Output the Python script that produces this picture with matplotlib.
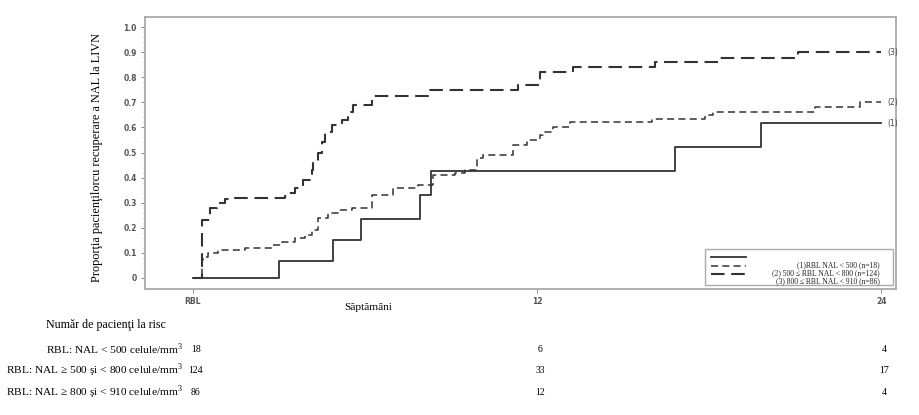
import numpy as np
import matplotlib.pyplot as plt
from matplotlib.transforms import blended_transform_factory
from matplotlib.patches import Rectangle

# step curves (weeks, cumulative proportion)
t1 = [0, 3.0, 4.9, 5.86, 7.9, 8.3, 16.8, 19.8, 24]
p1 = [0, 0.067, 0.15, 0.235, 0.33, 0.426, 0.52, 0.617, 0.617]

t2 = [0, 0.3, 0.35, 0.52, 0.87, 1.81, 2.76, 3.1, 3.56, 3.9, 4.15, 4.36, 4.7, 5.06, 5.55,
      6.24, 6.98, 7.85, 8.37, 9.14, 9.49, 9.9, 10.1, 11.16, 11.65, 12.1, 12.2, 12.56, 13.15,
      16.0, 17.86, 18.14, 21.7, 23.27, 24]
p2 = [0, 0.07, 0.083, 0.10, 0.11, 0.12, 0.13, 0.143, 0.16, 0.17, 0.19, 0.24, 0.26, 0.27, 0.28,
      0.33, 0.36, 0.37, 0.41, 0.42, 0.43, 0.48, 0.49, 0.53, 0.55, 0.57, 0.58, 0.60, 0.62,
      0.633, 0.65, 0.66, 0.68, 0.70, 0.70]

t3 = [0, 0.31, 0.59, 0.84, 1.12, 1.46, 3.21, 3.31, 3.56, 3.84, 4.15, 4.19, 4.36, 4.5, 4.6,
      4.85, 5.2, 5.4, 5.58, 6.24, 8.2, 11.34, 12.1, 13.25, 16.1, 18.38, 21.1, 24]
p3 = [0, 0.23, 0.28, 0.30, 0.315, 0.32, 0.327, 0.34, 0.36, 0.39, 0.43, 0.46, 0.50, 0.54, 0.58,
      0.61, 0.63, 0.66, 0.69, 0.725, 0.75, 0.77, 0.82, 0.84, 0.86, 0.876, 0.90, 0.90]

curve_tags = ['(1)', '(2)', '(3)']
legend_labels = ['(1)RBL NAL < 500 (n=18)',
                 '(2) 500 \u2264 RBL NAL < 800 (n=124)',
                 '(3) 800 \u2264 RBL NAL < 910 (n=86)']

risk_weeks = [0, 12, 24]
risk_labels = ['RBL: NAL < 500 celule/mm$^3$',
               'RBL: NAL \u2265 500 \u015fi < 800 celule/mm$^3$',
               'RBL: NAL \u2265 800 \u015fi < 910 celule/mm$^3$']
risk_1 = [18, 6, 4]
risk_2 = [124, 33, 17]
risk_3 = [86, 12, 4]

serif = ['Liberation Serif', 'DejaVu Serif']
plt.rcParams['mathtext.fontset'] = 'custom'
plt.rcParams['mathtext.rm'] = 'Liberation Serif'

fig = plt.figure(figsize=(9.2, 4.15), dpi=100)
ax = fig.add_axes([0.1576, 0.3036, 0.8164, 0.6554])

col = '#333333'
styles = [dict(ls='-', lw=1.3),
          dict(ls=(0, (4.6, 2.8)), lw=1.1),
          dict(ls=(0, (6.5, 3.2)), lw=1.5)]
for t, p, st, tag in zip([t1, t2, t3], [p1, p2, p3], styles, curve_tags):
    ax.step(t, p, where='post', color=col, **st)
    ax.text(t[-1] + 0.22, p[-1], tag, fontsize=5.5, color='#444444',
            va='center', ha='left')

ax.set_xlim(-1.674, 24.52)
ax.set_ylim(-0.044, 1.04)
ax.set_xticks([0, 12, 24])
ax.set_xticklabels(['RBL', '12', '24'])
ax.set_yticks(np.arange(0, 1.01, 0.1))
ax.set_yticklabels(['0'] + ['%.1f' % v for v in np.arange(0.1, 1.01, 0.1)])
ax.set_yticks(np.arange(0, 1.001, 0.02), minor=True)
for lab in ax.get_xticklabels() + ax.get_yticklabels():
    lab.set_fontweight('bold')
    lab.set_color('#555555')
ax.get_xticklabels()[0].set_fontsize(4.5)
ax.tick_params(axis='both', labelsize=5.5, color='#888888', length=3, width=0.7, pad=3)
ax.tick_params(axis='y', which='minor', length=1.5, width=0.5, color='#aaaaaa')
for sp in ax.spines.values():
    sp.set_color('#aaaaaa')
    sp.set_linewidth(1.3)

# legend box drawn by hand (right-aligned text)
ax.add_patch(Rectangle((0.745, 0.015), 0.251, 0.132, transform=ax.transAxes,
                       facecolor='white', edgecolor='#aaaaaa', lw=1.0, zorder=5))
hand_y = [0.119, 0.086, 0.054]
text_y = [0.088, 0.059, 0.030]
for st, hy, ty, lab in zip(styles, hand_y, text_y, legend_labels):
    ax.plot([0.753, 0.8], [hy, hy], transform=ax.transAxes, color=col, zorder=6, **st)
    ax.text(0.978, ty, lab, transform=ax.transAxes, ha='right', va='center',
            fontsize=5.5, family=serif, zorder=6, color='#222222')

fig.text(0.40, 0.258, 'S\u0103pt\u0103m\u00e2ni', ha='center', va='center',
         fontsize=8.2, family=serif)
fig.text(0.105, 0.62, 'Propor\u0163ia pacien\u0163ilorcu recuperare a NAL la LIVN',
         rotation=90, ha='center', va='center', fontsize=8.8, family=serif)

# numbers at risk
fig.text(0.115, 0.217, 'Num\u0103r de pacien\u0163i la risc', ha='center', va='center',
         fontsize=8.6, family=serif)
tr = blended_transform_factory(ax.transData, fig.transFigure)
row_y = [0.158, 0.107, 0.054]
for lab, vals, ry in zip(risk_labels, [risk_1, risk_2, risk_3], row_y):
    fig.text(0.199, ry, lab, ha='right', va='center', fontsize=8.2, family=serif)
    for w, v in zip(risk_weeks, vals):
        ax.text(w + 0.1, ry, str(v), transform=tr, ha='center', va='center',
                fontsize=7, family=serif, clip_on=False)

fig.savefig('out.png', dpi=100)
